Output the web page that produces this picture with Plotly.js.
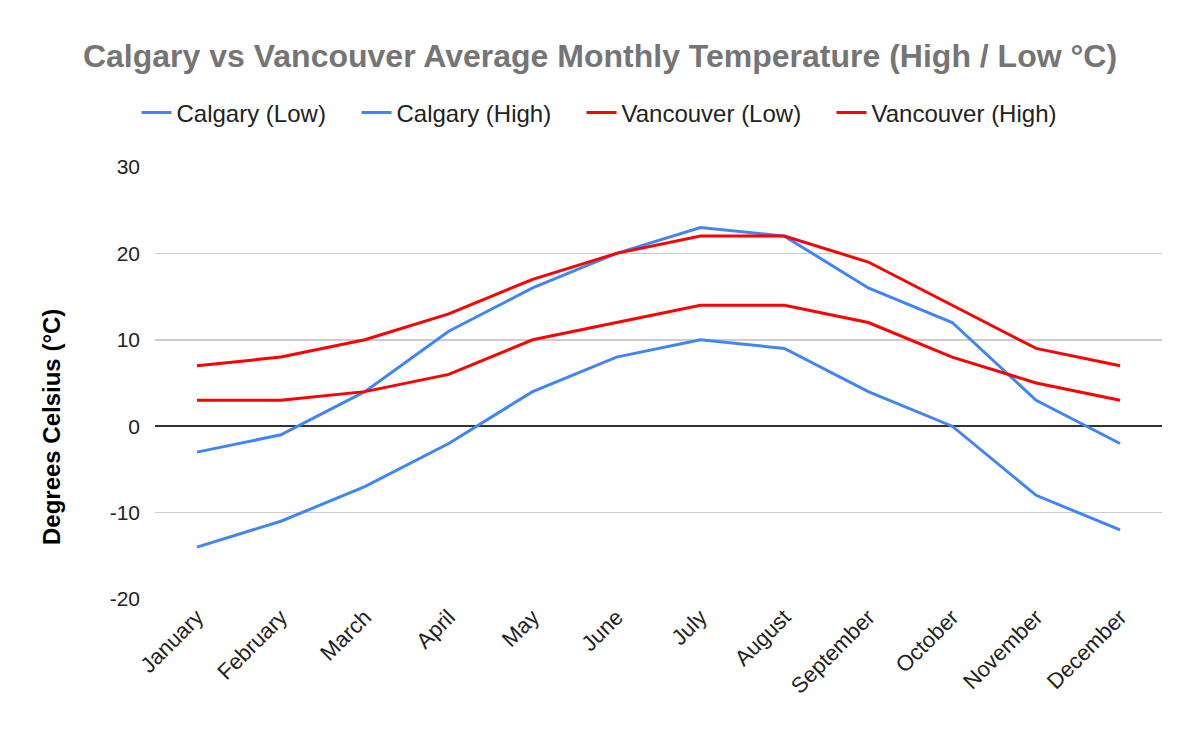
<!DOCTYPE html>
<html>
<head>
<meta charset="utf-8">
<script src="https://cdn.plot.ly/plotly-3.0.1.min.js"></script>
<style>html,body{margin:0;padding:0;background:#fff}#chart{width:1200px;height:742px}</style>
</head>
<body>
<div id="chart"></div>
<script>
const months = ["January","February","March","April","May","June","July","August","September","October","November","December"];
const calgaryLow = [-14,-11,-7,-2,4,8,10,9,4,0,-8,-12];
const calgaryHigh = [-3,-1,4,11,16,20,23,22,16,12,3,-2];
const vancouverLow = [3,3,4,6,10,12,14,14,12,8,5,3];
const vancouverHigh = [7,8,10,13,17,20,22,22,19,14,9,7];
const yTicks = [-20,-10,0,10,20,30];

const blue = "#4285f4", red = "#ff0000";
const mk = (name, y, color, lw) => ({x: months, y: y, name: name, type: "scatter", mode: "lines",
  line: {color: color, width: 3}, legendwidth: lw, hoverinfo: "x+y+name"});
const data = [
  mk("Calgary (Low)", calgaryLow, blue, 175),
  mk("Calgary (High)", calgaryHigh, blue, 180),
  mk("Vancouver (Low)", vancouverLow, red, 205),
  mk("Vancouver (High)", vancouverHigh, red, 190)
];
const layout = {
  width: 1200, height: 742,
  margin: {l: 155, r: 38, t: 167, b: 143},
  paper_bgcolor: "#fff", plot_bgcolor: "#fff",
  font: {family: "Liberation Sans, Arial, sans-serif", color: "#222", size: 21},
  title: {text: "Calgary vs Vancouver Average Monthly Temperature (High / Low °C)",
    font: {size: 32, color: "#757575", family: "Liberation Sans, Arial, sans-serif", weight: "bold"},
    x: 0.5, xanchor: "center", y: 0.925, yanchor: "middle"},
  showlegend: true,
  legend: {orientation: "h", x: 0.4434, xanchor: "center", y: 1.125, yanchor: "middle",
    font: {size: 24, color: "#222"}, itemwidth: 30, traceorder: "normal"},
  xaxis: {type: "category", range: [-0.5, 11.5], tickangle: -45, showgrid: false,
    zeroline: false, showline: false, ticks: "", tickfont: {size: 22, color: "#222"}},
  yaxis: {range: [-20, 30], tickvals: yTicks, ticktext: yTicks.map(String),
    showgrid: true, gridcolor: "#cccccc", gridwidth: 1.5,
    zeroline: true, zerolinecolor: "#333333", zerolinewidth: 1.5,
    ticks: "", ticklabelstandoff: 14, tickfont: {size: 21, color: "#222"}},
  annotations: [{text: "Degrees Celsius (°C)", textangle: -90, showarrow: false,
    xref: "paper", yref: "paper", x: -0.1033, y: 0.398, xanchor: "center", yanchor: "middle",
    font: {size: 24, color: "#000", weight: "bold", family: "Liberation Sans, Arial, sans-serif"}}]
};
Plotly.newPlot("chart", data, layout, {displayModeBar: false, staticPlot: true});
</script>
</body>
</html>
